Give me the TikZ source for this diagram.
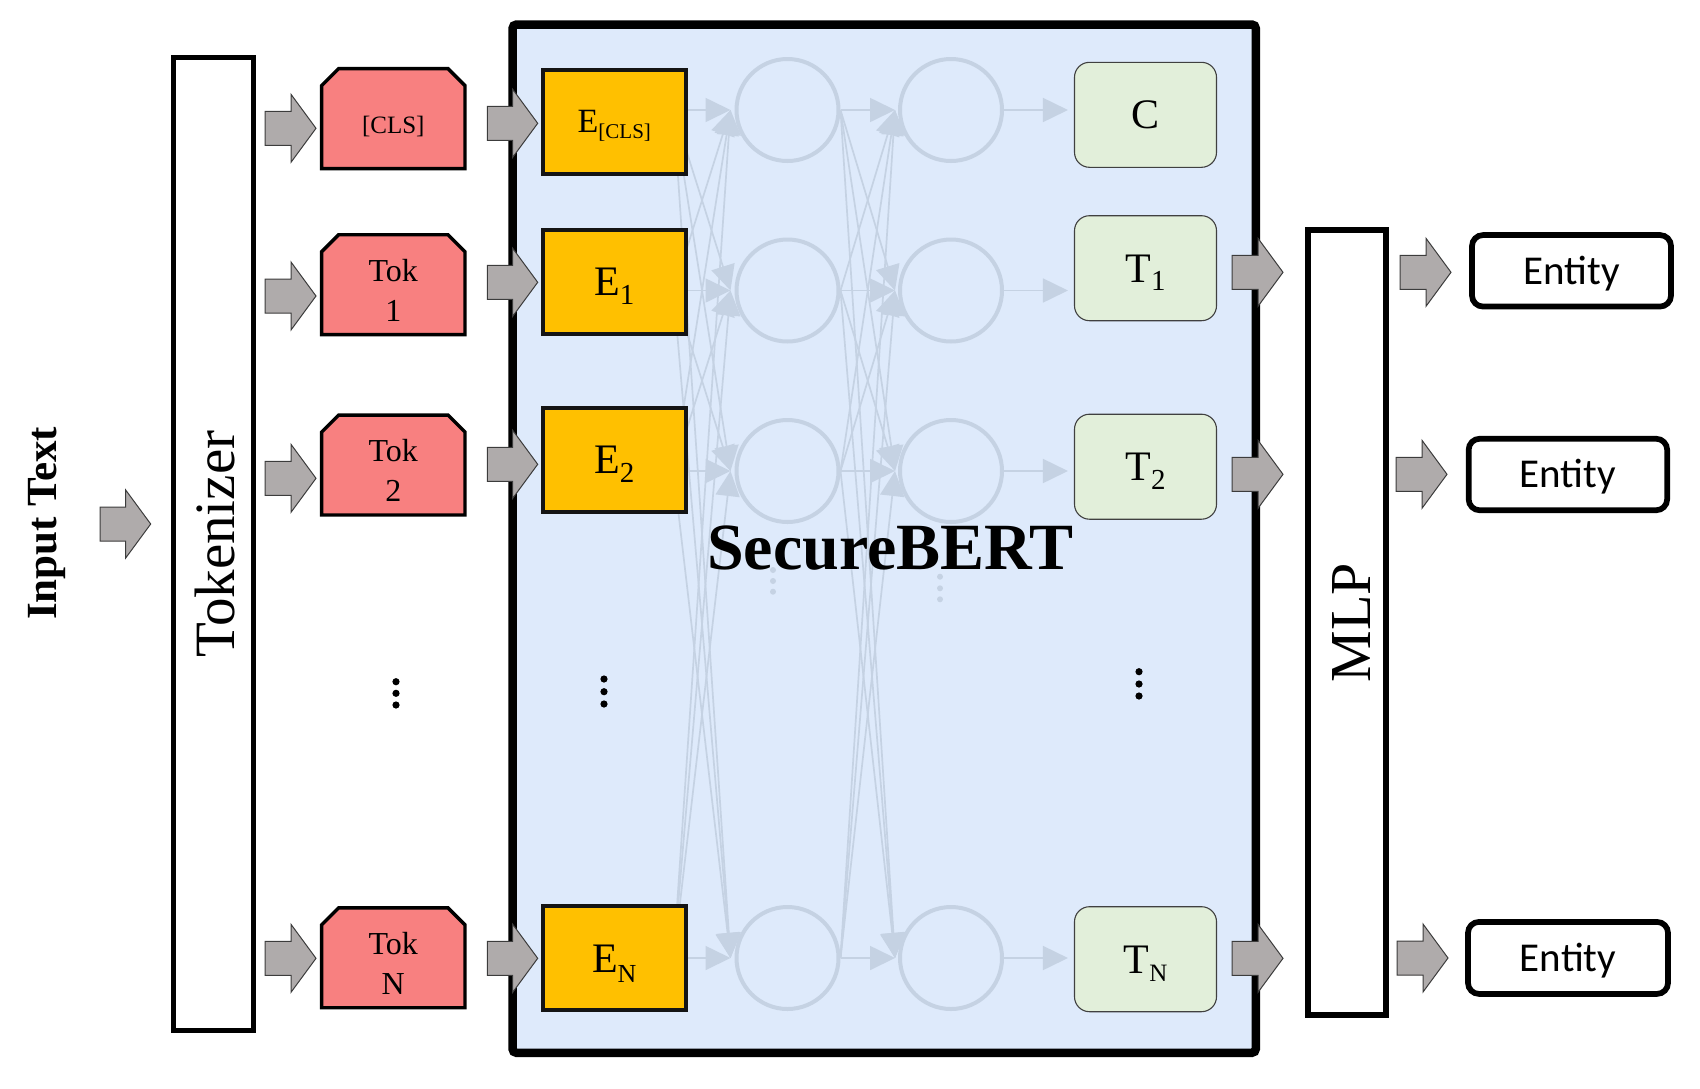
\documentclass[tikz,border=0pt]{standalone}
\usepackage{fontspec}
\setmainfont{Liberation Serif}
\newfontfamily\calibfont{Carlito}
\usetikzlibrary{arrows.meta,calc}
\definecolor{tokred}{RGB}{248,128,128}
\definecolor{embyel}{RGB}{255,192,0}
\definecolor{outgreen}{RGB}{226,239,218}
\definecolor{bertbg}{RGB}{222,234,251}
\definecolor{nncol}{RGB}{197,210,227}
\definecolor{arrgray}{RGB}{175,171,171}
\definecolor{arredge}{RGB}{60,60,60}
\pgfdeclarelayer{bglayer}
\pgfdeclarelayer{nnlayer}
\pgfsetlayers{bglayer,nnlayer,main}
\tikzset{
  tokbox/.style={rectangle, minimum width=143pt, minimum height=99.5pt, inner sep=0pt},
  tokshape/.style={draw=black, line width=3.4pt, fill=tokred},
  toktxt/.style={font=\fontsize{32}{40}\selectfont, align=center, inner sep=0pt},
  embbox/.style={rectangle, draw=black!92, line width=4pt, fill=embyel,
    minimum width=142.5pt, minimum height=104pt, inner sep=0pt,
    text height=27.5pt, text depth=0pt, font=\fontsize{42}{42}\selectfont},
  outbox/.style={rectangle, rounded corners=15pt, draw=black!75, line width=1.1pt, fill=outgreen,
    minimum width=142pt, minimum height=105pt, inner sep=0pt,
    text height=27.8pt, text depth=0pt, font=\fontsize{42}{42}\selectfont},
  entbox/.style={rectangle, rounded corners=11pt, draw=black, line width=5.7pt, fill=white,
    minimum height=71.5pt, inner sep=0pt,
    text height=26.4pt, text depth=0pt, font=\calibfont\fontsize{41}{41}\selectfont},
  tallbox/.style={rectangle, draw=black, fill=white, inner sep=0pt, rotate=90},
  neuron/.style={circle, draw=nncol, line width=4pt, minimum size=102pt, inner sep=0pt},
  nnline/.style={draw=nncol, line width=1.7pt, -{Triangle[length=25pt,width=24pt]}},
  blockarrow/.style={fill=arrgray, draw=arredge, line width=1pt},
  vdot/.style={fill=black},
  fdot/.style={fill=nncol}
}
\newcommand{\blockarr}[2]{%
  \filldraw[blockarrow] let \p1=(#1), \p2=(#2) in
    (\x1,\y1+17pt) -- (\x2-25pt,\y1+17pt) -- (\x2-25pt,\y1+34pt) -- (\x2,\y1)
    -- (\x2-25pt,\y1-34pt) -- (\x2-25pt,\y1-17pt) -- (\x1,\y1-17pt) -- cycle;}
\newcommand{\chamferbox}[1]{%
  \filldraw[tokshape] (#1.south west) -- ($(#1.north west)+(0,17)$) -- ($(#1.north west)+(17,0)$)
    -- ($(#1.north east)+(-17,0)$) -- ($(#1.north east)+(0,17)$) -- (#1.south east) -- cycle;}
\begin{document}
\begin{tikzpicture}[x=1pt,y=-1pt]
\useasboundingbox (0,0) rectangle (1700,1088);

% SecureBERT container
\begin{pgfonlayer}{bglayer}
\node[rectangle, draw=black, line width=8.5pt, fill=bertbg, rounded corners=4pt,
  minimum width=743.3pt, minimum height=1028.3pt, inner sep=0pt] (bert) at (884.15,538.65) {};
\end{pgfonlayer}

% Input text
\node[rotate=90, anchor=base, inner sep=0pt, font=\bfseries\fontsize{43}{43}\selectfont] (inputtxt) at (56.7,523.3) {Input Text};

% Tokenizer and MLP
\node[tallbox, line width=5pt, minimum width=973.3pt, minimum height=79.7pt,
  font=\fontsize{57}{57}\selectfont, text height=43pt, text depth=0pt] (tkz) at (213.4,544.2) {Tokenizer};
\node[tallbox, line width=6pt, minimum width=785pt, minimum height=78pt,
  font=\fontsize{58}{58}\selectfont, text height=46pt, text depth=0pt] (mlp) at (1347,622.8) {MLP};

% Token boxes
\node[tokbox] (tok0) at (393.3,118.6) {};
\node[tokbox] (tok1) at (393.3,284.7) {};
\node[tokbox] (tok2) at (393.3,465) {};
\node[tokbox] (tok3) at (393.3,957.8) {};
\foreach \k in {0,...,3} {\chamferbox{tok\k}}
\node[inner sep=0pt, font=\fontsize{25}{25}\selectfont] (tok0t) at (393.3,126) {[CLS]};
\node[toktxt] (tok1t) at (393.3,290.6) {Tok\\1};
\node[toktxt] (tok2t) at (393.3,470.2) {Tok\\2};
\node[toktxt] (tok3t) at (393.3,963.5) {Tok\\N};

% Embedding boxes
\node[embbox, text height=22.5pt, font=\fontsize{34}{34}\selectfont] (e0) at (614.3,121.5)
  {E\raisebox{-6pt}{\fontsize{21}{21}\selectfont [CLS]}};
\node[embbox] (e1) at (614.3,282.2) {E\raisebox{-9pt}{\fontsize{29}{29}\selectfont 1}};
\node[embbox] (e2) at (614.3,459.7) {E\raisebox{-9pt}{\fontsize{29}{29}\selectfont 2}};
\node[embbox] (e3) at (614.3,958.3) {E\raisebox{-10pt}{\fontsize{26}{26}\selectfont N}};

% Output boxes
\node[outbox] (t0) at (1145.5,114.8) {C};
\node[outbox] (t1) at (1145.5,268.2) {T\raisebox{-8.5pt}{\fontsize{29}{29}\selectfont 1}};
\node[outbox] (t2) at (1145.5,466.7) {T\raisebox{-9pt}{\fontsize{29}{29}\selectfont 2}};
\node[outbox] (t3) at (1145.5,959.2) {T\raisebox{-8.4pt}{\fontsize{25}{25}\selectfont N}};

% Entity boxes
\node[entbox, minimum width=199pt] (ent1) at (1571.5,270.8) {Entity};
\node[entbox, minimum width=198.5pt] (ent2) at (1567.9,474.5) {Entity};
\node[entbox, minimum width=200pt, minimum height=72pt] (ent3) at (1568,957.9) {Entity};

% Neural layers
\begin{pgfonlayer}{nnlayer}
\foreach \k/\yy in {0/110,1/290.5,2/471,3/958} {
  \node[neuron] (a\k) at (787.5,\yy) {};
  \node[neuron] (b\k) at (951,\yy) {};
}
\foreach \i in {0,...,3} {
  \foreach \j in {0,...,3} {
    \draw[nnline] ($(e\i.east |- a\i)+(-14,0)$) -- ($(a\j.west)+(-4,0)$);
    \draw[nnline] (a\i.east) -- ($(b\j.west)+(-3,0)$);
  }
  \draw[nnline] (b\i.east) -- ($(t\i.west |- b\i)+(-6,0)$);
}
\foreach \yy in {570,581,591.7} {\fill[fdot] (773,\yy) circle (3pt);}
\foreach \yy in {576.7,588.3,599.3} {\fill[fdot] (940,\yy) circle (3pt);}
\end{pgfonlayer}

% Title
\node[anchor=base, inner sep=0pt, font=\bfseries\fontsize{66}{66}\selectfont] (sbtitle) at (890.5,569.3) {SecureBERT};

% Vertical ellipses
\foreach \yy in {681.7,693.3,705} {\fill[vdot] (396,\yy) circle (3.6pt);}
\foreach \yy in {679,691.7,704} {\fill[vdot] (604,\yy) circle (3.6pt);}
\foreach \yy in {671.7,684,696} {\fill[vdot] (1139,\yy) circle (3.6pt);}

% Block arrows
\coordinate (ins) at (100,524);
\coordinate (int) at (150.7,524);
\blockarr{ins}{int}
\foreach \k/\yy in {0/128.3,1/296,2/478.3,3/958.3} {
  \coordinate (ks\k) at (265,\yy);
  \coordinate (kt\k) at (316,\yy);
  \blockarr{ks\k}{kt\k}
}
\foreach \k/\yy in {0/123.3,1/282.3,2/464.3,3/958.3} {
  \coordinate (es\k) at (487.3,\yy);
  \coordinate (et\k) at (537.7,\yy);
  \blockarr{es\k}{et\k}
}
\foreach \k/\yy in {1/272.3,2/474.3,3/958.3} {
  \coordinate (os\k) at (1232,\yy);
  \coordinate (ot\k) at (1283,\yy);
  \blockarr{os\k}{ot\k}
}
\foreach \k/\yy/\xs in {1/272.3/1400,2/474.3/1396,3/958/1397} {
  \coordinate (ms\k) at (\xs,\yy);
  \coordinate (mt\k) at (\xs+51,\yy);
  \blockarr{ms\k}{mt\k}
}
\end{tikzpicture}
\end{document}
